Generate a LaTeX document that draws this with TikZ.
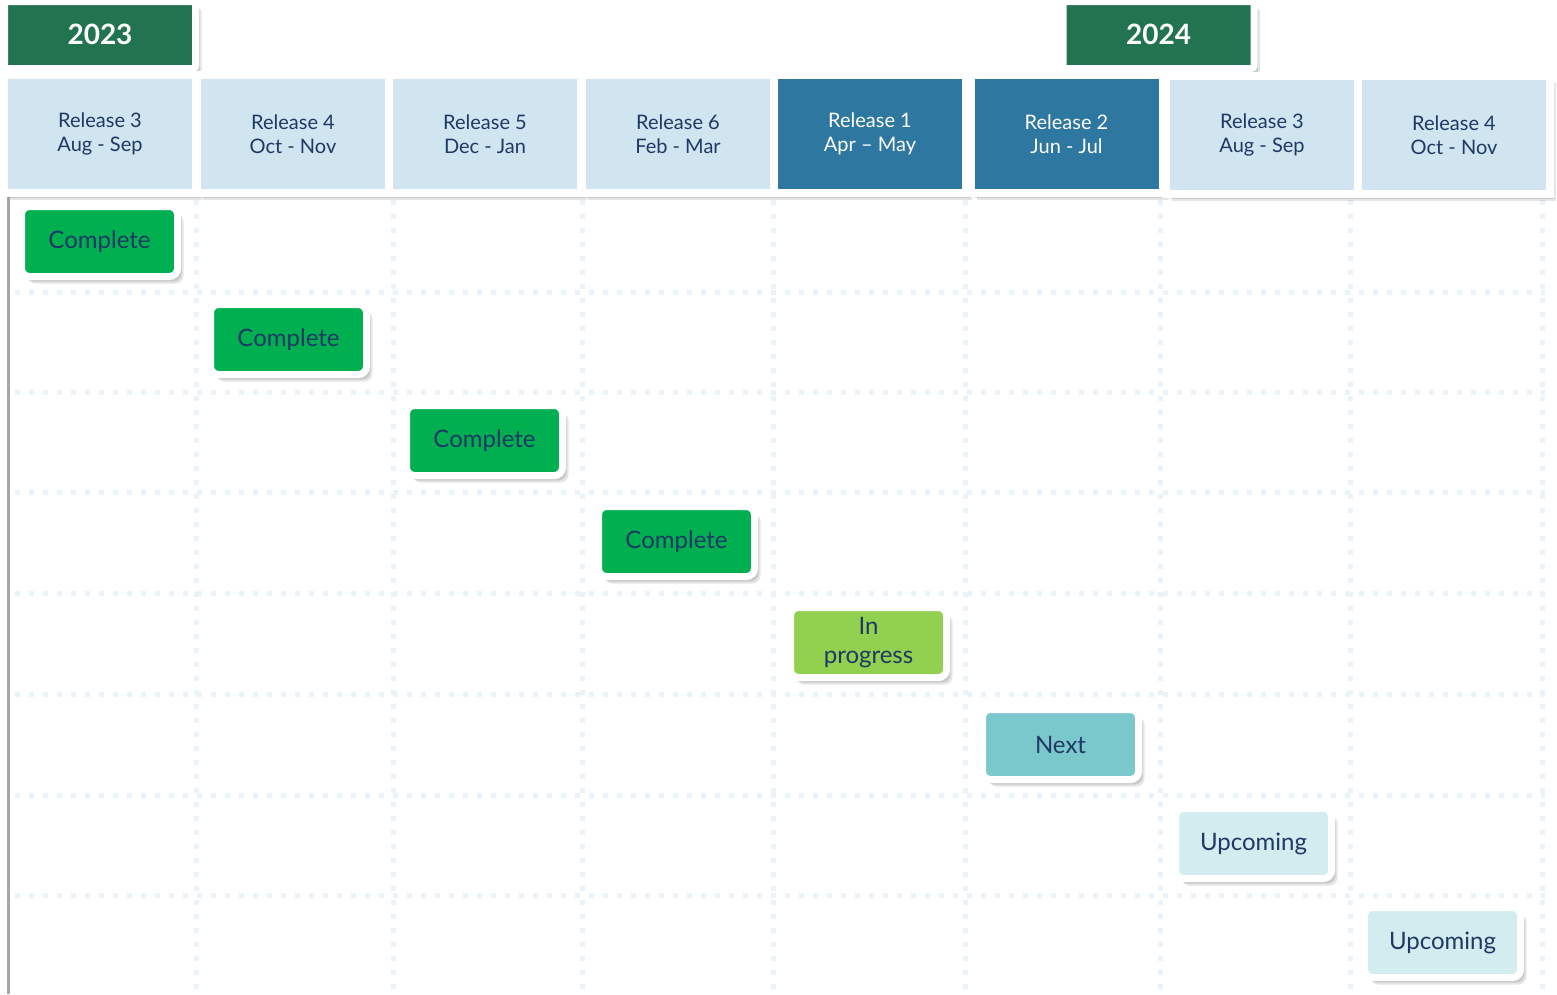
\documentclass[tikz,border=0pt]{standalone}
\usepackage{fontspec}
\setmainfont{Lato}
\usetikzlibrary{shadows}
\definecolor{yeargreen}{HTML}{22734F}
\definecolor{lightrel}{HTML}{D0E5F0}
\definecolor{darkrel}{HTML}{2E77A0}
\definecolor{navytext}{HTML}{1F3864}
\definecolor{donegreen}{HTML}{00B050}
\definecolor{progreen}{HTML}{92D050}
\definecolor{nextteal}{HTML}{7AC8CC}
\definecolor{upcyan}{HTML}{D2ECEF}
\definecolor{gridblue}{HTML}{EAF3F9}

\begin{document}
\begin{tikzpicture}[x=1pt, y=-1pt]
\tikzstyle{every node}=[inner sep=0pt, align=center];
\tikzstyle{boxshadow}=[drop shadow={opacity=0.12, fill=black, shadow xshift=2pt, shadow yshift=-3pt},
  drop shadow={opacity=0.12, fill=black, shadow xshift=4pt, shadow yshift=-5pt},
  drop shadow={opacity=0.10, fill=black, shadow xshift=6pt, shadow yshift=-7pt}];
\tikzstyle{yearbox}=[boxshadow, draw=white, line width=7pt, rounded corners=3pt, fill=yeargreen,
  minimum width=191pt, minimum height=67pt, text=white, font=\fontsize{28}{30}\selectfont\bfseries];
\tikzstyle{relbox}=[boxshadow, draw=white, line width=8pt, fill=lightrel,
  minimum width=192pt, minimum height=118pt, text=navytext, font=\fontsize{20}{24}\selectfont];
\tikzstyle{reldark}=[relbox, fill=darkrel, text=white];
\tikzstyle{statebox}=[boxshadow, draw=white, line width=7pt, rounded corners=8pt,
  minimum width=156pt, minimum height=70pt, text=navytext, font=\fontsize{24}{29}\selectfont];
\useasboundingbox (0,0) rectangle (1557,994);
% grid
\foreach \gx in {196,393,582,773,965,1160,1350,1542}
  \draw[gridblue, line width=5pt, dash pattern=on 5pt off 9pt] (\gx,200) -- (\gx,994);
\foreach \gy in {292,392,492,593,694,795,895}
  \draw[gridblue, line width=5pt, dash pattern=on 5pt off 9pt] (15,\gy) -- (1545,\gy);
\draw[gray!70, line width=3pt] (8,195) -- (8,994);
% years
\node[yearbox] (y0) at (100,35) {\raisebox{1pt}{2023}};
\node[yearbox] (y1) at (1158.5,35) {\raisebox{1pt}{2024}};
% releases
\node[relbox] (r0) at (100,134) {Release 3\\Aug - Sep};
\node[relbox] (r1) at (293,134) {Release 4\\Oct - Nov};
\node[relbox] (r2) at (485,134) {Release 5\\Dec - Jan};
\node[relbox] (r3) at (678,134) {Release 6\\Feb - Mar};
\node[reldark] (r4) at (870,134) {Release 1\\Apr -- May};
\node[reldark] (r5) at (1066.5,134) {Release 2\\Jun - Jul};
\node[relbox] (r6) at (1262,135) {Release 3\\Aug - Sep};
\node[relbox] (r7) at (1454,135) {Release 4\\Oct - Nov};
% states
\node[statebox, fill=donegreen] (s0) at (99.5,241.5) {Complete};
\node[statebox, fill=donegreen] (s1) at (288.5,339.5) {Complete};
\node[statebox, fill=donegreen] (s2) at (484.5,440.5) {Complete};
\node[statebox, fill=donegreen] (s3) at (676.5,541.5) {Complete};
\node[statebox, fill=progreen] (s4) at (868.5,642.5) {In\\progress};
\node[statebox, fill=nextteal] (s5) at (1060.5,744.5) {Next};
\node[statebox, fill=upcyan] (s6) at (1253.5,843.5) {Upcoming};
\node[statebox, fill=upcyan] (s7) at (1442.5,942.5) {Upcoming};
\end{tikzpicture}
\end{document}
